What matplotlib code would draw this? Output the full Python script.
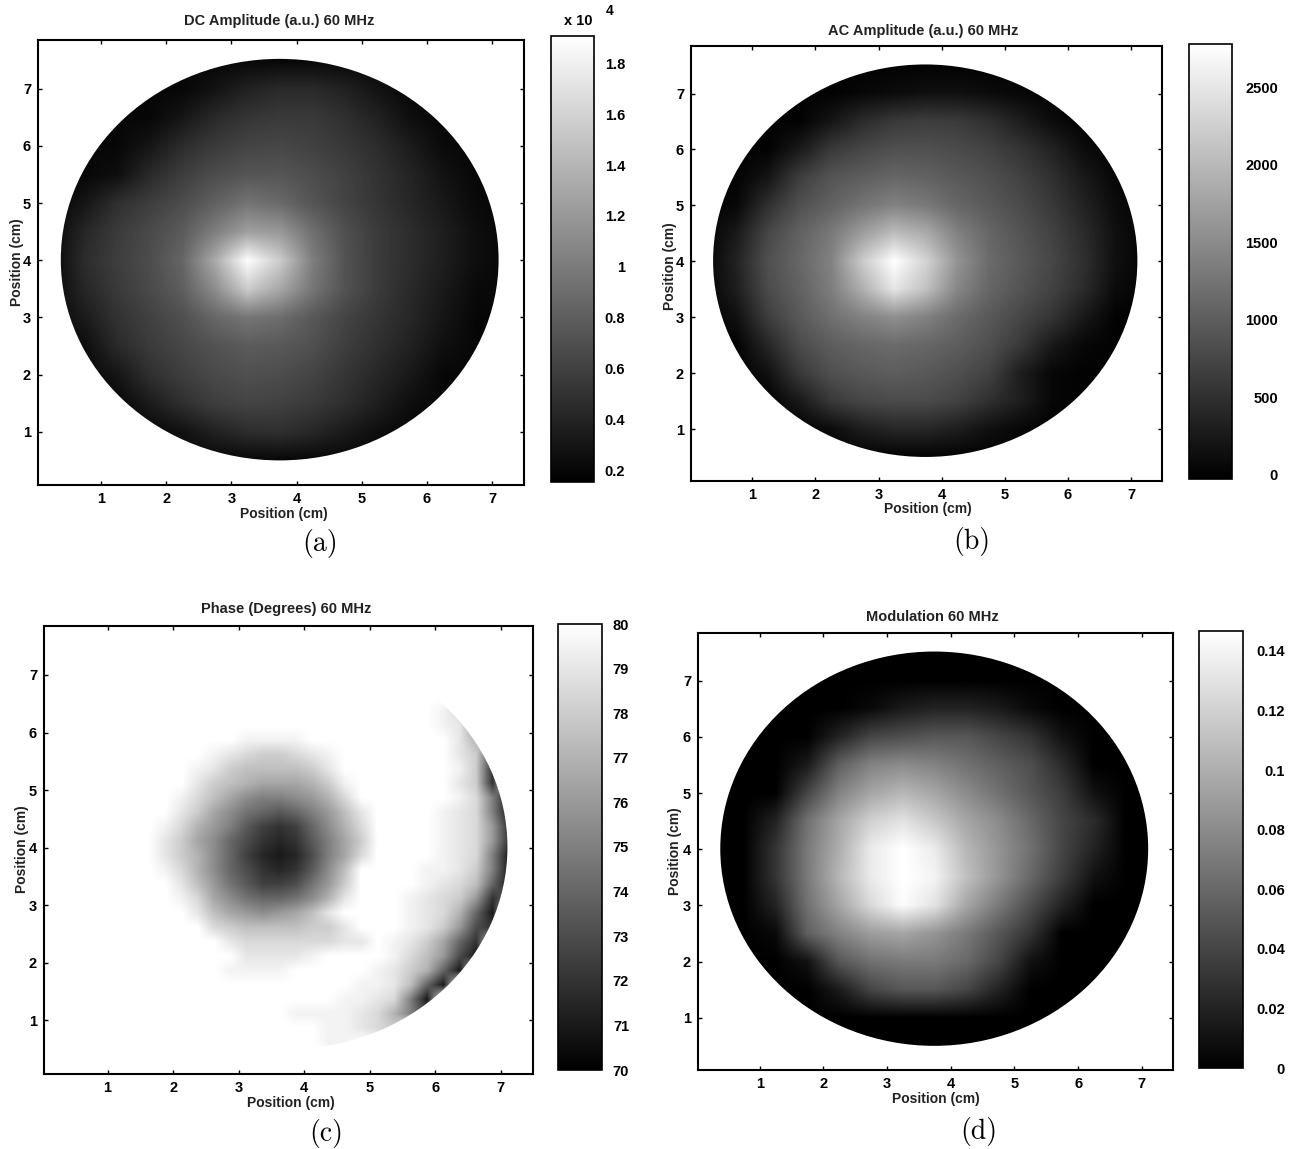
import numpy as np
import matplotlib
matplotlib.use("Agg")
import matplotlib.pyplot as plt
from matplotlib.patches import Ellipse

plt.rcParams['font.family'] = ['Liberation Sans', 'DejaVu Sans']
plt.rcParams['font.size'] = 10.5

W, H = 1289, 1149

# rows run from y=7.5 down to y=0.5, columns from x=0.25 to x=7.25
dc_amp = [
    [.2] * 15,
    [.2, .2, .2, .2, .2, .28, .38, .44, .44, .38, .28, .2, .2, .2, .2],
    [.2, .2, .2, .2, .3, .44, .52, .55, .55, .48, .38, .25, .2, .2, .2],
    [.2, .2, .2, .3, .46, .56, .62, .64, .6, .54, .46, .34, .22, .2, .2],
    [.2, .2, .25, .44, .58, .68, .74, .74, .68, .6, .5, .4, .28, .2, .2],
    [.2, .3, .48, .58, .68, .82, .95, .88, .74, .62, .52, .42, .32, .22, .2],
    [.2, .42, .56, .66, .78, 1.02, 1.25, 1.2, .92, .7, .56, .46, .36, .25, .2],
    [.2, .46, .58, .68, .85, 1.32, 1.9, 1.55, 1.02, .72, .56, .46, .36, .25, .2],
    [.2, .42, .55, .66, .8, 1.12, 1.55, 1.3, .96, .72, .56, .44, .33, .22, .2],
    [.2, .34, .5, .6, .7, .86, .96, .9, .76, .62, .52, .42, .3, .2, .2],
    [.2, .24, .44, .56, .64, .72, .78, .76, .7, .58, .48, .38, .26, .2, .2],
    [.2, .2, .3, .48, .58, .66, .7, .68, .62, .52, .42, .32, .2, .2, .2],
    [.2, .2, .2, .34, .48, .58, .62, .6, .55, .47, .36, .25, .2, .2, .2],
    [.2, .2, .2, .2, .27, .38, .46, .48, .42, .33, .25, .2, .2, .2, .2],
    [.2] * 15,
]

ac_amp = [
    [0] * 15,
    [0, 0, 0, 0, 0, 50, 100, 150, 150, 100, 50, 0, 0, 0, 0],
    [0, 0, 0, 0, 200, 450, 600, 650, 620, 500, 300, 100, 0, 0, 0],
    [0, 0, 0, 250, 600, 750, 850, 850, 800, 700, 550, 350, 100, 0, 0],
    [0, 0, 200, 650, 900, 1000, 1100, 1050, 950, 850, 700, 500, 250, 50, 0],
    [0, 50, 500, 850, 1050, 1250, 1400, 1300, 1100, 950, 800, 600, 350, 100, 0],
    [0, 250, 750, 1050, 1300, 1700, 2050, 1850, 1400, 1100, 900, 700, 450, 150, 0],
    [0, 350, 850, 1100, 1400, 2200, 2780, 2300, 1600, 1150, 950, 750, 500, 150, 0],
    [0, 300, 800, 1050, 1350, 1900, 2500, 2100, 1450, 1100, 900, 700, 450, 100, 0],
    [0, 150, 650, 950, 1200, 1400, 1550, 1400, 1150, 950, 750, 550, 250, 0, 0],
    [0, 0, 400, 800, 1000, 1100, 1150, 1100, 1000, 850, 600, 250, 50, 0, 0],
    [0, 0, 150, 600, 850, 950, 1000, 950, 850, 700, 300, 50, 0, 0, 0],
    [0, 0, 0, 250, 600, 750, 800, 800, 700, 500, 300, 50, 0, 0, 0],
    [0, 0, 0, 0, 100, 300, 400, 400, 300, 150, 50, 0, 0, 0, 0],
    [0] * 15,
]

modulation = [
    [0] * 15,
    [0] * 15,
    [0, 0, 0, 0, 0, .005, .015, .02, .02, .015, .005, 0, 0, 0, 0],
    [0, 0, 0, 0, .02, .04, .045, .05, .05, .04, .03, .01, 0, 0, 0],
    [0, 0, 0, .015, .055, .075, .08, .075, .065, .055, .045, .025, 0, 0, 0],
    [0, 0, 0, .04, .075, .095, .105, .095, .08, .065, .05, .035, .01, 0, 0],
    [0, 0, .02, .065, .095, .12, .13, .115, .095, .08, .06, .04, .025, 0, 0],
    [0, 0, .03, .07, .10, .135, .147, .135, .105, .085, .065, .04, .02, 0, 0],
    [0, 0, .03, .07, .105, .135, .147, .14, .11, .085, .06, .035, .01, 0, 0],
    [0, 0, .02, .065, .095, .125, .145, .13, .095, .07, .045, .02, 0, 0, 0],
    [0, 0, .005, .055, .075, .09, .095, .085, .07, .05, .03, 0, 0, 0, 0],
    [0, 0, 0, .01, .05, .065, .07, .07, .06, .04, .01, 0, 0, 0, 0],
    [0, 0, 0, 0, .015, .04, .05, .05, .04, .02, 0, 0, 0, 0, 0],
    [0] * 15,
    [0] * 15,
]

# phase is 80 everywhere except these runs: (row, first column, values)
# rows run from y=7.625 in 0.25 steps, columns from x=0.125 in 0.25 steps
phase_runs = [
    (7, 12, [79.5, 79.5, 79.5, 79.5]),
    (8, 10, [79.5, 79, 78.5, 78, 78, 78.5, 79, 79.5]),
    (9, 9, [79.5, 79, 78, 77.5, 77.5, 77.5, 77.5, 78, 79]),
    (10, 9, [79, 78, 77.5, 77, 76.5, 76.5, 76.5, 77, 78, 79.5]),
    (11, 8, [79.5, 78.5, 77.5, 76.5, 75.5, 75, 75, 75.5, 76, 77, 78.5]),
    (12, 8, [79, 78, 76.5, 75.5, 74.5, 74, 73.5, 74, 75, 76, 77.5, 79]),
    (13, 7, [79.5, 78.5, 77, 76, 75, 73.5, 72.5, 72, 72.5, 74, 75.5, 77, 78.5]),
    (14, 7, [79, 78, 76.5, 75.5, 74, 73, 72, 71.5, 72, 73.5, 75, 76.5, 78]),
    (15, 7, [79, 78, 77, 75.5, 74, 72.5, 71.5, 71, 71.5, 73, 75, 76.5, 78.5]),
    (16, 7, [79.5, 78.5, 77, 75.5, 74, 73, 72, 71.5, 72, 73.5, 75.5, 77.5]),
    (17, 8, [79, 77.5, 76, 74.5, 73.5, 72.5, 72.5, 73, 74.5, 76, 78]),
    (18, 8, [79.5, 78.5, 76.5, 75.5, 74.5, 74, 74, 74.5, 75.5, 77, 79]),
    (19, 9, [79, 77.5, 76.5, 76, 75.5, 76, 76.5, 77.5, 79]),
    (20, 10, [78.5, 78, 77.5, 77.5, 77.5, 77.5, 78, 78, 79]),
    (21, 11, [79, 78.5, 78.5, 78.5, 78.5, 78.5, 78.5, 79, 79]),
    (22, 12, [79, 79, 79, 79, 79.5]),
    (23, 11, [79.5, 79.5, 79.5, 79.5]),
    (5, 24, [79.5, 78.5]),
    (6, 24, [79.5, 79, 76]),
    (7, 25, [79, 77]),
    (8, 25, [79, 78, 73]),
    (9, 25, [79.5, 78, 72]),
    (10, 25, [79, 78, 72]),
    (11, 25, [79.5, 78.5, 75, 71]),
    (12, 24, [79.5, 79, 78.5, 75, 71]),
    (13, 24, [79.5, 79, 78.5, 76, 72]),
    (14, 24, [79.5, 79, 78.5, 76, 72]),
    (15, 24, [79.5, 79, 78.5, 75, 71]),
    (16, 23, [79.5, 79.5, 79, 78, 75, 71]),
    (17, 23, [79.5, 79, 78.5, 77.5, 74, 71]),
    (18, 22, [79.5, 79, 78.5, 78, 76, 72, 74]),
    (19, 22, [79.5, 79, 78.5, 77, 74, 71]),
    (20, 22, [79.5, 79, 78, 76, 73, 72]),
    (21, 21, [79.5, 79, 78, 76.5, 74, 72, 78]),
    (22, 21, [79.5, 78.5, 77.5, 76, 73, 71]),
    (23, 20, [79.5, 79, 78, 77, 74, 71]),
    (24, 19, [79.5, 79.5, 79, 77.5, 74, 71]),
    (25, 18, [79.5, 79.5, 79, 78.5, 75, 71]),
    (26, 15, [79.5, 79.5, 79.5, 79.5, 79, 78.5, 77, 75, 73]),
    (27, 17, [79.5, 79.5, 79, 78.5, 78]),
    (28, 17, [79.5, 79.5]),
]
phase = np.full((30, 30), 80.0)
for row, col, vals in phase_runs:
    phase[row, col:col + len(vals)] = vals

pos_ticks_x = [1, 2, 3, 4, 5, 6, 7]
pos_ticks_y = [1, 2, 3, 4, 5, 6, 7]

dc_ticks = [.2, .4, .6, .8, 1, 1.2, 1.4, 1.6, 1.8]
dc_labels = ['0.2', '0.4', '0.6', '0.8', '1', '1.2', '1.4', '1.6', '1.8']
ac_ticks = [0, 500, 1000, 1500, 2000, 2500]
ac_labels = ['0', '500', '1000', '1500', '2000', '2500']
ph_ticks = [70, 71, 72, 73, 74, 75, 76, 77, 78, 79, 80]
ph_labels = ['70', '71', '72', '73', '74', '75', '76', '77', '78', '79', '80']
mo_ticks = [0, .02, .04, .06, .08, .1, .12, .14]
mo_labels = ['0', '0.02', '0.04', '0.06', '0.08', '0.1', '0.12', '0.14']

panels = [
    dict(data=dc_amp, vmin=.153, vmax=1.908, ticks=dc_ticks, labels=dc_labels,
         title="DC Amplitude (a.u.) 60 MHz", cap="(a)",
         box=(38, 524, 40, 485), cbox=(551, 594, 36, 482), pad=31,
         tpos=(279, 21), xpos=(284, 514), ypos=(17, 262), cpos=(320, 544)),
    dict(data=ac_amp, vmin=-26, vmax=2780, ticks=ac_ticks, labels=ac_labels,
         title="AC Amplitude (a.u.) 60 MHz", cap="(b)",
         box=(691, 1162, 46, 481), cbox=(1189, 1232, 44, 479), pad=46,
         tpos=(923, 31), xpos=(928, 509), ypos=(670, 266), cpos=(972, 541)),
    dict(data=phase, vmin=70, vmax=80, ticks=ph_ticks, labels=ph_labels,
         title="Phase (Degrees) 60 MHz", cap="(c)",
         box=(44, 533, 626, 1074), cbox=(558, 602, 624, 1070), pad=27,
         tpos=(286, 609), xpos=(291, 1103), ypos=(22, 849), cpos=(326, 1134)),
    dict(data=modulation, vmin=0, vmax=.1467, ticks=mo_ticks, labels=mo_labels,
         title="Modulation 60 MHz", cap="(d)",
         box=(698, 1173, 633, 1070), cbox=(1199, 1243, 631, 1068), pad=42,
         tpos=(932, 617), xpos=(936, 1099), ypos=(675, 851), cpos=(979, 1131)),
]

fig = plt.figure(figsize=(W / 100, H / 100), dpi=100)


def px_axes(left, right, top, bottom):
    return fig.add_axes([left / W, 1 - bottom / H, (right - left) / W, (bottom - top) / H])


def px_text(pos, s, **kw):
    fig.text(pos[0] / W, 1 - pos[1] / H, s, ha='center', va='center', **kw)


for p in panels:
    ax = px_axes(*p['box'])
    im = ax.imshow(p['data'], cmap='gray', vmin=p['vmin'], vmax=p['vmax'], aspect='auto',
                   interpolation='bilinear', extent=(0, 7.5, 0.25, 7.75))
    disc = Ellipse((3.74, 4.01), 6.72, 7.02, transform=ax.transData)
    im.set_clip_path(disc)
    ax.set_xlim(0.03, 7.49)
    ax.set_ylim(0.07, 7.85)
    ax.set_xticks(pos_ticks_x)
    ax.set_yticks(pos_ticks_y)
    ax.tick_params(direction='in', length=3, width=1, top=True, right=True, pad=5)
    for lab in ax.get_xticklabels() + ax.get_yticklabels():
        lab.set_fontweight('bold')
    for s in ax.spines.values():
        s.set_linewidth(1.5)

    cax = px_axes(*p['cbox'])
    cb = fig.colorbar(im, cax=cax, ticks=p['ticks'])
    cb.set_ticklabels(p['labels'])
    cb.outline.set_linewidth(1.2)
    cax.tick_params(length=0, pad=p['pad'] * 0.72)
    for lab in cax.get_yticklabels():
        lab.set_ha('right')
        lab.set_fontweight('bold')

    px_text(p['tpos'], p['title'], fontsize=10.5, fontweight='bold', color='#222222')
    px_text(p['xpos'], "Position (cm)", fontsize=10, fontweight='bold', color='#222222')
    px_text(p['ypos'], "Position (cm)", fontsize=10, fontweight='bold', color='#222222', rotation=90)
    px_text(p['cpos'], p['cap'], fontsize=20, family='cmr10')

px_text((578, 21), "x 10", fontsize=10.5, fontweight='bold')
px_text((610, 11), "4", fontsize=10, fontweight='bold')

fig.savefig("out.png", dpi=100)
